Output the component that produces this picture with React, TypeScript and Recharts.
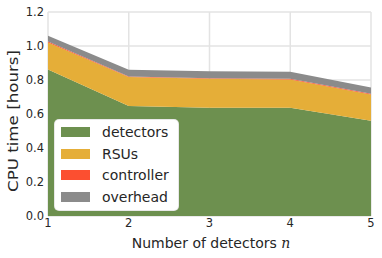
import { AreaChart, Area, XAxis, YAxis, CartesianGrid } from 'recharts';

const detectorCounts = [1, 2, 3, 4, 5];
const detectors = [0.862, 0.647, 0.637, 0.637, 0.561];
const rsus = [0.158, 0.170, 0.170, 0.166, 0.153];
const controller = [0.006, 0.004, 0.004, 0.005, 0.005];
const overhead = [0.034, 0.040, 0.040, 0.040, 0.037];
const yTicks = [0, 0.2, 0.4, 0.6, 0.8, 1.0, 1.2];

const seriesNames = ['detectors', 'RSUs', 'controller', 'overhead'];
const colors = ['#6d904f', '#e5ae38', '#fc4f30', '#8b8b8b'];

const data = detectorCounts.map((n, i) => ({
    n,
    detectors: detectors[i],
    RSUs: rsus[i],
    controller: controller[i],
    overhead: overhead[i],
}));

const font = '"DejaVu Sans", sans-serif';

// legend drawn as an overlay so it does not steal plot space
const LegendBox = () => (
    <div style={{
        position: 'absolute', left: 55, top: 120, width: 123, height: 90, boxSizing: 'border-box',
        background: '#fff', borderRadius: 4, padding: '1px 0 0 6px',
        fontFamily: font, fontSize: 14, color: '#262626', boxShadow: '0 0 0 1px #e8e8e8'
    }}>
        {seriesNames.map((name, i) => (
            <div key={name} style={{ display: 'flex', alignItems: 'center', height: 21.7 }}>
                <span style={{ width: 29, height: 10, background: colors[i], display: 'inline-block', marginRight: 12 }} />
                <span>{name}</span>
            </div>
        ))}
    </div>
);

export default function App() {
    return (
        <div style={{ position: 'absolute', left: 0, top: 0, width: 382, height: 258, background: '#fff' }}>
            <AreaChart width={382} height={258} data={data} margin={{ top: 12, right: 11, left: 8, bottom: 18 }}>
                <CartesianGrid stroke="#e3e3e3" strokeWidth={1.5} />
                <XAxis dataKey="n" type="number" domain={[1, 5]} ticks={detectorCounts}
                    tickLine={false} axisLine={false} height={24} tickSize={0}
                    tick={{ fontSize: 11.5, fill: '#262626', fontFamily: font }} tickMargin={3}
                    label={{ content: () => (
                        <text x={211} y={248} textAnchor="middle" fontSize={14} fill="#262626" fontFamily={font}>
                            Number of detectors <tspan fontStyle="italic" fontFamily='"DejaVu Serif", serif'>n</tspan>
                        </text>
                    ) }} />
                <YAxis type="number" domain={[0, 1.2]} ticks={yTicks} width={40} tickSize={0}
                    tickLine={false} axisLine={false} tickFormatter={(v: number) => v.toFixed(1)}
                    tick={{ fontSize: 11.5, fill: '#262626', fontFamily: font }} tickMargin={4} />
                {seriesNames.map((name, i) => (
                    <Area key={name} type="linear" dataKey={name} stackId="1" stroke="none"
                        fill={colors[i]} fillOpacity={1} isAnimationActive={false} />
                ))}
                <text x={0} y={0} textAnchor="middle" fontSize={14} textLength={142}
                    lengthAdjust="spacingAndGlyphs" fill="#262626" fontFamily={font}
                    transform="translate(18 121) rotate(-90)">CPU time [hours]</text>
            </AreaChart>
            <LegendBox />
        </div>
    );
}
